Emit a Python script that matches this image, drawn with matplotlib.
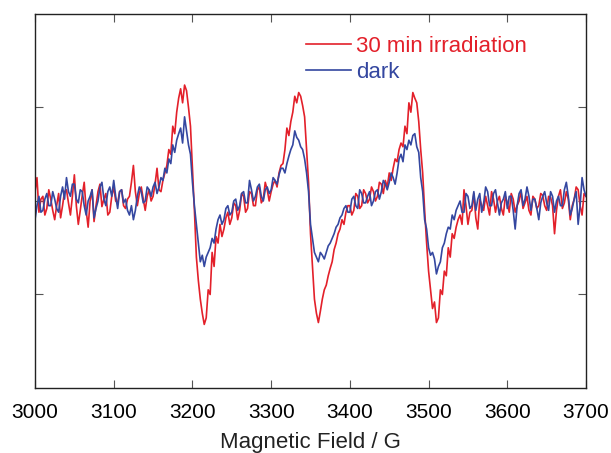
import matplotlib
matplotlib.use('Agg')
import matplotlib.pyplot as plt
import numpy as np

# --- DATA (2.5 G steps) ---

field = np.arange(3000, 3700.1, 2.5)

irradiated = [
    0.10, 0.25, -0.12, 0.02, 0.05, -0.15, -0.08, 0.12, 0.02, -0.10,
    -0.20, -0.05, 0.08, -0.18, -0.05, 0.10, 0.12, -0.02, -0.15, 0.05,   # 3000
    0.28, -0.05, -0.25, -0.10, 0.06, 0.20, -0.10, -0.28, 0.00, 0.12,
    -0.22, -0.05, 0.10, 0.18, -0.06, 0.02, 0.08, -0.15, -0.12, 0.05,    # 3050
    0.15, 0.00, -0.02, 0.10, 0.12, -0.05, -0.08, 0.02, 0.05, 0.20,
    0.38, 0.10, -0.05, 0.08, 0.15, 0.02, -0.10, 0.05, 0.12, 0.00,       # 3100
    0.05, 0.18, 0.35, 0.12, 0.10, 0.22, 0.30, 0.38, 0.55, 0.50,
    0.80, 0.72, 0.95, 1.10, 1.20, 1.05, 1.24, 1.18, 1.00, 0.80,         # 3150
    0.35, -0.10, -0.60, -0.85, -1.05, -1.20, -1.32, -1.25, -0.95, -1.00,
    -0.55, -0.70, -0.38, -0.45, -0.25, -0.38, -0.30, -0.18, -0.12, -0.25,  # 3200
    -0.18, -0.02, -0.05, -0.20, -0.10, 0.08, 0.05, -0.12, -0.08, 0.10,
    0.08, -0.05, -0.05, 0.12, 0.15, -0.02, 0.02, 0.20, 0.12, 0.00,      # 3250
    0.10, 0.18, 0.22, 0.15, 0.30, 0.38, 0.40, 0.55, 0.78, 0.70,
    0.85, 0.95, 1.12, 1.05, 1.16, 1.12, 1.02, 0.90, 0.55, 0.20,         # 3300
    -0.35, -0.70, -1.05, -1.20, -1.30, -1.18, -1.05, -0.95, -0.90, -0.80,
    -0.72, -0.65, -0.52, -0.45, -0.35, -0.30, -0.20, -0.25, -0.12, -0.05,  # 3350
    -0.05, -0.15, -0.10, 0.08, 0.05, -0.08, -0.05, 0.12, 0.08, -0.02,
    0.02, 0.15, 0.10, 0.00, 0.05, 0.20, 0.18, 0.08, 0.22, 0.15,         # 3400
    0.30, 0.22, 0.35, 0.45, 0.42, 0.55, 0.62, 0.58, 0.80, 0.72,
    1.05, 0.95, 1.16, 1.10, 1.05, 0.85, 0.55, 0.30, -0.10, -0.45,       # 3450
    -0.75, -0.95, -1.15, -1.08, -1.30, -1.25, -0.95, -1.00, -0.75, -0.80,
    -0.50, -0.60, -0.35, -0.40, -0.28, -0.20, -0.15, -0.25, 0.12, -0.05,  # 3500
    -0.25, -0.12, -0.10, 0.08, -0.18, -0.30, 0.02, -0.05, -0.10, 0.05,
    -0.05, -0.15, 0.10, 0.02, -0.12, 0.00, 0.05, -0.08, -0.15, 0.05,    # 3550
    -0.02, -0.12, 0.08, 0.02, -0.12, -0.05, 0.00, 0.10, -0.08, -0.02,
    0.05, -0.10, -0.15, 0.05, 0.02, -0.08, -0.05, 0.08, 0.06, -0.05,    # 3600
    -0.10, 0.05, 0.04, -0.05, -0.35, -0.10, 0.05, 0.12, -0.08, -0.02,
    0.10, 0.02, -0.20, -0.05, 0.02, 0.15, 0.12, -0.05, -0.15, 0.08,     # 3650
    0.05,                                                               # 3700
]

dark = [
    -0.20, -0.05, 0.05, -0.12, -0.10, 0.02, 0.08, -0.05, -0.05, 0.10,
    0.02, -0.08, -0.12, 0.05, 0.15, 0.02, 0.25, 0.10, 0.05, 0.18,       # 3000
    0.18, 0.02, -0.02, 0.12, 0.10, -0.05, -0.15, 0.00, 0.05, 0.12,
    -0.18, -0.08, 0.00, 0.15, 0.20, 0.02, -0.05, 0.10, 0.15, 0.05,      # 3050
    0.22, 0.05, -0.08, 0.10, 0.12, -0.02, 0.02, -0.10, -0.15, -0.05,
    -0.20, -0.10, 0.05, 0.15, 0.10, -0.02, 0.00, 0.15, 0.12, 0.05,      # 3100
    0.15, 0.20, 0.08, 0.15, 0.25, 0.22, 0.35, 0.30, 0.45, 0.40,
    0.60, 0.52, 0.65, 0.72, 0.78, 0.62, 0.90, 0.75, 0.60, 0.50,         # 3150
    0.20, -0.05, -0.25, -0.45, -0.65, -0.58, -0.70, -0.60, -0.55, -0.50,
    -0.40, -0.45, -0.30, -0.20, -0.15, -0.25, -0.20, -0.08, -0.05, -0.15,  # 3200
    -0.12, 0.00, 0.02, -0.10, -0.05, 0.08, 0.10, -0.02, -0.02, 0.22,
    0.12, 0.00, 0.05, 0.15, 0.18, 0.05, 0.00, 0.12, 0.15, 0.08,         # 3250
    0.12, 0.25, 0.22, 0.18, 0.28, 0.35, 0.35, 0.30, 0.40, 0.48,
    0.55, 0.60, 0.75, 0.68, 0.65, 0.58, 0.55, 0.45, 0.30, 0.10,         # 3300
    -0.25, -0.40, -0.55, -0.60, -0.65, -0.55, -0.58, -0.62, -0.55, -0.48,
    -0.45, -0.40, -0.35, -0.28, -0.25, -0.18, -0.15, -0.08, -0.05, -0.12,  # 3350
    -0.12, 0.02, 0.05, -0.05, -0.08, 0.12, 0.08, -0.02, -0.02, 0.05,
    0.10, -0.05, 0.00, 0.10, 0.12, 0.02, 0.10, 0.22, 0.18, 0.12,        # 3400
    0.20, 0.30, 0.25, 0.18, 0.30, 0.45, 0.50, 0.42, 0.60, 0.55,
    0.65, 0.60, 0.70, 0.72, 0.58, 0.52, 0.25, 0.10, -0.20, -0.30,       # 3450
    -0.50, -0.58, -0.55, -0.62, -0.78, -0.70, -0.65, -0.50, -0.45, -0.35,
    -0.28, -0.30, -0.15, -0.20, -0.10, -0.05, 0.00, -0.12, -0.12, 0.08,  # 3500
    0.05, -0.08, -0.05, 0.10, -0.10, 0.02, 0.08, -0.12, -0.02, 0.15,
    0.10, -0.05, -0.05, 0.08, 0.12, -0.02, -0.15, -0.02, 0.02, 0.10,    # 3550
    -0.08, 0.05, 0.05, -0.10, -0.30, -0.05, 0.08, 0.12, -0.05, 0.02,
    0.15, 0.05, -0.10, 0.02, 0.02, -0.08, -0.20, -0.02, 0.05, 0.10,     # 3600
    -0.02, -0.10, 0.10, 0.05, -0.12, 0.00, 0.05, -0.05, -0.05, 0.12,
    0.20, 0.05, -0.15, -0.08, 0.02, 0.10, -0.25, -0.05, 0.25, 0.12,     # 3650
    0.05,                                                               # 3700
]

labels = ['30 min irradiation', 'dark']
colours = ['#e3202a', '#3447a0']

xticks = np.arange(3000, 3701, 100)

# --- PLOT ---

plt.rcParams['font.family'] = ['Liberation Sans', 'DejaVu Sans']

fig = plt.figure(figsize=(6.11, 4.53), dpi=100)
ax = fig.add_axes([0.0573, 0.1435, 0.9018, 0.8256])

ax.plot(field, irradiated, color=colours[0], lw=1.2, label=labels[0])
ax.plot(field, dark, color=colours[1], lw=1.2, label=labels[1])

ax.set_xlim(3000, 3700)
ax.set_ylim(-2, 2)
ax.set_xticks(xticks)
ax.set_yticks([-1, 0, 1])
ax.set_yticklabels([])
ax.tick_params(direction='in', length=6, width=0.8, color='#555555',
               top=True, right=True, labelsize=15, pad=11)
for s in ax.spines.values():
    s.set_linewidth(1.0)
    s.set_color('#222222')

ax.set_xlabel('Magnetic Field / G', fontsize=16, labelpad=7, color='#222222')

leg = ax.legend(loc='upper left', bbox_to_anchor=(0.492, 0.941), frameon=False,
                fontsize=16, handlelength=2.0, handletextpad=0.23,
                labelspacing=0.2, borderpad=0, borderaxespad=0,
                labelcolor='linecolor')

fig.savefig('out.png', dpi=100)
